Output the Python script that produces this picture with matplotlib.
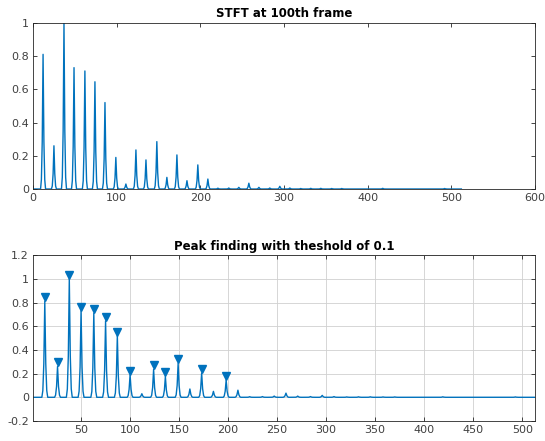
import numpy as np
import matplotlib
matplotlib.use("Agg")
import matplotlib.pyplot as plt
import matplotlib.transforms as mtransforms

# harmonic peaks of the magnitude spectrum (0-based FFT bins)
peak_bins = [12, 25, 37, 49, 62, 74, 86, 99, 111, 123, 135, 148, 160, 172, 184, 197, 209]
peak_mags = [0.81, 0.26, 1.0, 0.73, 0.71, 0.645, 0.52, 0.19, 0.03, 0.235, 0.175,
             0.285, 0.07, 0.205, 0.05, 0.145, 0.06]

# weak high harmonics
small_bins = [221, 234, 246, 258, 270, 283, 295, 307, 320, 332, 344, 357, 369, 418, 492]
small_mags = [0.005, 0.006, 0.01, 0.035, 0.01, 0.006, 0.016, 0.006, 0.003, 0.004,
              0.004, 0.003, 0.003, 0.004, 0.003]

# relative shape of a peak's main lobe (bins -2..2)
main_lobe = [0.07, 0.35, 1.0, 0.35, 0.07]

n_bins = 513
threshold = 0.1

spec = np.zeros(n_bins)
for b, m in zip(peak_bins + small_bins, peak_mags + small_mags):
    for k, w in enumerate(main_lobe):
        spec[b + k - 2] = max(spec[b + k - 2], m * w)

blue = '#0072BD'
dark = '#262626'
label_grey = '#404040'

fig = plt.figure(figsize=(5.45, 4.41), dpi=100)
ax1 = fig.add_axes([0.0606, 0.5714, 0.921, 0.377])
ax2 = fig.add_axes([0.0606, 0.0454, 0.921, 0.376])

def matlab_style(ax):
    for s in ax.spines.values():
        s.set_color(dark)
        s.set_linewidth(0.6)
    ax.tick_params(direction='in', length=3, width=0.6, colors=dark,
                   labelcolor=label_grey, labelsize=8, top=True, right=True, pad=3)

# top: spectrum of one frame
ax1.plot(np.arange(n_bins), spec, color=blue, lw=1.0)
ax1.set_xlim(0, 600)
ax1.set_ylim(0, 1)
ax1.set_xticks(np.arange(0, 601, 100))
ax1.set_yticks([0, 0.2, 0.4, 0.6, 0.8, 1])
ax1.set_yticklabels(['0', '0.2', '0.4', '0.6', '0.8', '1'])
ax1.set_title('STFT at 100th frame', fontsize=8.5, fontweight='bold', pad=4)
matlab_style(ax1)

# bottom: peaks above threshold (1-based index)
x2 = np.arange(1, n_bins + 1)
ax2.plot(x2, spec, color=blue, lw=1.0)
sel = [i for i, m in enumerate(peak_mags) if m > threshold]
px = [peak_bins[i] + 1 for i in sel]
py = [peak_mags[i] for i in sel]
shift = mtransforms.offset_copy(ax2.transData, fig=fig, y=3, units='points')
ax2.plot(px, py, 'v', color=blue, ms=6, transform=shift)
ax2.set_xlim(1, 513)
ax2.set_ylim(-0.2, 1.2)
ax2.set_xticks(np.arange(50, 501, 50))
yt = [-0.2, 0, 0.2, 0.4, 0.6, 0.8, 1, 1.2]
ax2.set_yticks(yt)
ax2.set_yticklabels(['-0.2', '0', '0.2', '0.4', '0.6', '0.8', '1', '1.2'])
ax2.grid(True, color='#d0d0d0', lw=0.6)
ax2.set_axisbelow(True)
ax2.set_title('Peak finding with theshold of 0.1', fontsize=8.5, fontweight='bold', pad=4)
matlab_style(ax2)

fig.savefig('out.png', dpi=100)
